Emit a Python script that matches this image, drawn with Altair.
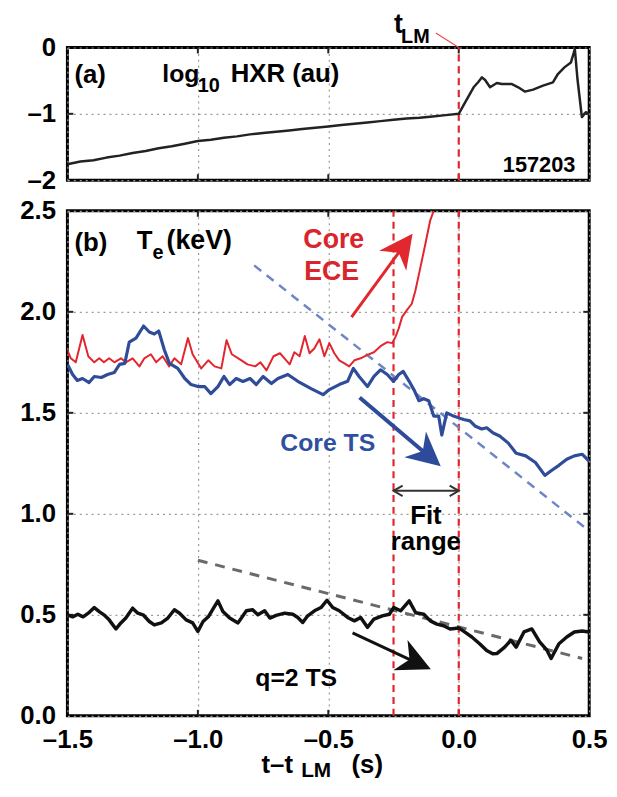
import math
import altair as alt
import pandas as pd

# ---------------- data ----------------
# (a) log10 HXR
hxr_t = [-1.5, -1.45, -1.4, -1.35, -1.3, -1.25, -1.2, -1.15, -1.1, -1.05, -1.0,
         -0.95, -0.9, -0.85, -0.8, -0.75, -0.7, -0.65, -0.6, -0.55, -0.5,
         -0.45, -0.4, -0.35, -0.3, -0.25, -0.2, -0.15, -0.1, -0.05, 0.0,
         0.032, 0.057, 0.075, 0.089, 0.101, 0.12, 0.146, 0.165, 0.202, 0.228,
         0.253, 0.285, 0.323, 0.361, 0.38, 0.405, 0.43, 0.445, 0.455, 0.472, 0.487, 0.5]
hxr_v = [-1.76, -1.72, -1.70, -1.66, -1.63, -1.59, -1.56, -1.52, -1.49, -1.45, -1.41,
         -1.39, -1.36, -1.34, -1.31, -1.29, -1.27, -1.25, -1.23, -1.21, -1.19,
         -1.17, -1.15, -1.13, -1.11, -1.09, -1.07, -1.06, -1.04, -1.02, -1.00,
         -0.775, -0.60, -0.52, -0.45, -0.49, -0.60, -0.535, -0.55, -0.55, -0.60,
         -0.665, -0.635, -0.575, -0.525, -0.40, -0.30, -0.225, -0.025, -0.475, -1.05, -0.975, -1.0]

# (b) core ECE Te (keV)
ece_t = [-1.5, -1.487, -1.468, -1.442, -1.42, -1.397, -1.378, -1.36, -1.34, -1.32, -1.295,
         -1.276, -1.25, -1.224, -1.205, -1.18, -1.16, -1.135, -1.11, -1.09, -1.064, -1.038,
         -1.02, -0.987, -0.96, -0.936, -0.91, -0.89, -0.87, -0.833, -0.81, -0.78, -0.76,
         -0.737, -0.71, -0.685, -0.668, -0.648, -0.63, -0.61, -0.59, -0.572, -0.553, -0.534,
         -0.515, -0.496, -0.477, -0.458, -0.44, -0.42, -0.40, -0.376, -0.35, -0.325, -0.30,
         -0.274, -0.255, -0.242, -0.23, -0.217, -0.198, -0.18, -0.166, -0.147, -0.128,
         -0.11, -0.096]
ece_T = [1.81, 1.77, 1.75, 1.885, 1.78, 1.75, 1.77, 1.75, 1.77, 1.75, 1.77,
         1.75, 1.77, 1.73, 1.77, 1.79, 1.75, 1.78, 1.73, 1.77, 1.74, 1.87,
         1.79, 1.72, 1.76, 1.73, 1.72, 1.86, 1.79, 1.76, 1.74, 1.73, 1.75,
         1.71, 1.78, 1.795, 1.77, 1.74, 1.80, 1.78, 1.88, 1.795, 1.82, 1.864,
         1.78, 1.845, 1.795, 1.76, 1.746, 1.73, 1.76, 1.77, 1.787, 1.80, 1.83,
         1.85, 1.845, 1.877, 1.918, 1.975, 2.01, 2.04, 2.106, 2.22, 2.336,
         2.45, 2.5]

# (b) core TS Te (keV)
ts_t = [-1.5, -1.48, -1.462, -1.442, -1.417, -1.397, -1.37, -1.346, -1.32, -1.30, -1.28,
        -1.263, -1.237, -1.208, -1.186, -1.167, -1.15, -1.128, -1.109, -1.077, -1.05,
        -1.026, -1.0, -0.974, -0.95, -0.923, -0.90, -0.878, -0.853, -0.827, -0.80,
        -0.776, -0.75, -0.718, -0.693, -0.655, -0.617, -0.566, -0.52, -0.496, -0.458,
        -0.426, -0.404, -0.382, -0.35, -0.325, -0.30, -0.274, -0.25, -0.23, -0.213,
        -0.19, -0.17, -0.153, -0.134, -0.115, -0.096, -0.077, -0.065, -0.046, -0.02,
        0.0, 0.019, 0.043, 0.062, 0.088, 0.107, 0.132, 0.157, 0.19, 0.22, 0.257,
        0.294, 0.33, 0.354, 0.384, 0.414, 0.443, 0.473, 0.5]
ts_T = [1.74, 1.69, 1.66, 1.67, 1.65, 1.68, 1.675, 1.69, 1.70, 1.74, 1.745,
        1.85, 1.87, 1.93, 1.90, 1.89, 1.905, 1.81, 1.745, 1.72, 1.67,
        1.64, 1.63, 1.63, 1.595, 1.63, 1.68, 1.64, 1.67, 1.655, 1.67,
        1.64, 1.68, 1.645, 1.67, 1.69, 1.656, 1.62, 1.59, 1.615, 1.64,
        1.656, 1.72, 1.68, 1.63, 1.68, 1.713, 1.69, 1.656, 1.69, 1.705,
        1.656, 1.61, 1.56, 1.57, 1.56, 1.484, 1.484, 1.39, 1.50, 1.484,
        1.475, 1.467, 1.46, 1.435, 1.42, 1.426, 1.40, 1.385, 1.35, 1.30, 1.287,
        1.254, 1.19, 1.213, 1.24, 1.27, 1.287, 1.295, 1.26]

# (b) q=2 TS Te (keV)
q2_t = [-1.5, -1.48, -1.46, -1.44, -1.42, -1.397, -1.378, -1.36, -1.34, -1.314, -1.295,
        -1.276, -1.25, -1.23, -1.21, -1.186, -1.167, -1.14, -1.115, -1.09, -1.07,
        -1.045, -1.02, -1.0, -0.98, -0.96, -0.94, -0.923, -0.904, -0.878, -0.846,
        -0.814, -0.79, -0.77, -0.744, -0.724, -0.70, -0.667, -0.636, -0.617, -0.598,
        -0.579, -0.553, -0.528, -0.505, -0.483, -0.458, -0.426, -0.40, -0.376, -0.35,
        -0.325, -0.293, -0.266, -0.249, -0.223, -0.19, -0.165, -0.134, -0.109, -0.084,
        -0.058, -0.033, 0.0, 0.025, 0.05, 0.08, 0.107, 0.13, 0.146, 0.176, 0.2, 0.22,
        0.25, 0.28, 0.31, 0.338, 0.354, 0.384, 0.414, 0.443, 0.473, 0.5]
q2_T = [0.50, 0.49, 0.503, 0.49, 0.508, 0.536, 0.516, 0.50, 0.475, 0.43, 0.46,
        0.484, 0.533, 0.508, 0.50, 0.467, 0.45, 0.46, 0.484, 0.525, 0.508,
        0.475, 0.46, 0.418, 0.467, 0.49, 0.533, 0.569, 0.516, 0.484, 0.46,
        0.52, 0.525, 0.50, 0.52, 0.484, 0.497, 0.508, 0.503, 0.487, 0.462,
        0.495, 0.52, 0.536, 0.572, 0.536, 0.52, 0.487, 0.47, 0.487, 0.438,
        0.479, 0.495, 0.503, 0.536, 0.52, 0.569, 0.51, 0.503, 0.47, 0.454,
        0.446, 0.43, 0.435, 0.413, 0.39, 0.357, 0.323, 0.307, 0.308, 0.34, 0.374, 0.34,
        0.415, 0.43, 0.366, 0.325, 0.284, 0.357, 0.39, 0.415, 0.42, 0.415]

# linear fits (dashed)
fit_ts_t = [-0.784, 0.5]
fit_ts_T = [2.23, 0.915]
fit_q2_t = [-1.0, 0.473]
fit_q2_T = [0.77, 0.284]

# fit window and t_LM marker
fit_window = [-0.25, 0.0]
t_lm = [0.0]

# tick values
x_ticks = [-1.5, -1.0, -0.5, 0.0, 0.5]
ya_ticks = [-2, -1, 0]
yb_ticks = [0.0, 0.5, 1.0, 1.5, 2.0, 2.5]

# arrows in panel (b): tail t, tail T, tip t, tip T
arrow_ece = [-0.411, 1.974, -0.177, 2.387]
arrow_ts = [-0.38, 1.576, -0.069, 1.236]
arrow_q2 = [-0.407, 0.411, -0.107, 0.23]
fit_arrow_T = 1.114

# ---------------- layout / style ----------------
FONT = "Liberation Sans"
W, HA, HB = 527, 134, 510
XDOM, YADOM, YBDOM = [-1.5, 0.5], [-2, 0], [0, 2.5]
PXX = W / (XDOM[1] - XDOM[0])          # px per unit of t
PXYA = HA / (YADOM[1] - YADOM[0])      # px per unit in (a)
PXYB = HB / (YBDOM[1] - YBDOM[0])      # px per keV in (b)
TICK = 6.0                             # inward tick length, px
RED = "#e3262d"
BLUE = "#2f4c99"

xscale = alt.Scale(domain=XDOM, nice=False, zero=False)
ya_scale = alt.Scale(domain=YADOM, nice=False, zero=False)
yb_scale = alt.Scale(domain=YBDOM, nice=False, zero=False)

neg_d = "datum.value < 0 ? '\u2013' + format(-datum.value, 'd') : format(datum.value, 'd')"
neg_f = "datum.value < 0 ? '\u2013' + format(-datum.value, '.1f') : format(datum.value, '.1f')"

ax_xa = alt.Axis(values=x_ticks, labels=False, ticks=False, domain=False, grid=True, title=None)
ax_xb = alt.Axis(values=x_ticks, labelExpr=neg_f, labelFlush=False, ticks=False, domain=False,
                 grid=True, title=None, labelPadding=11, labelOverlap=False)
ax_ya = alt.Axis(values=ya_ticks, labelExpr=neg_d, ticks=False, domain=False, grid=True,
                 title=None, labelPadding=12, labelOverlap=False)
ax_yb = alt.Axis(values=yb_ticks, labelExpr=neg_f, ticks=False, domain=False, grid=True,
                 title=None, labelPadding=12, labelOverlap=False)


def enc(panel, two=False):
    ax_x = ax_xa if panel == "a" else ax_xb
    ax_y = ax_ya if panel == "a" else ax_yb
    ys = ya_scale if panel == "a" else yb_scale
    d = dict(x=alt.X("t:Q", scale=xscale, axis=ax_x), y=alt.Y("v:Q", scale=ys, axis=ax_y))
    if two:
        d["x2"] = alt.X2("t2:Q")
        d["y2"] = alt.Y2("v2:Q")
    return d


def line(panel, ts, vs, color, width, dash=None):
    df = pd.DataFrame({"t": ts, "v": vs, "o": list(range(len(ts)))})
    kw = dict(color=color, strokeWidth=width, strokeJoin="round", clip=True)
    if dash:
        kw["strokeDash"] = dash
    return alt.Chart(df).mark_line(**kw).encode(order="o:Q", **enc(panel))


def seg(panel, t1, v1, t2, v2, color, width, dash=None):
    df = pd.DataFrame({"t": t1, "v": v1, "t2": t2, "v2": v2})
    kw = dict(color=color, strokeWidth=width)
    if dash:
        kw["strokeDash"] = dash
    return alt.Chart(df).mark_rule(**kw).encode(**enc(panel, two=True))


def inward_ticks(panel, yticks, ydom, pxy):
    t1, v1, t2, v2 = [], [], [], []
    dy = TICK / pxy
    dx = TICK / PXX
    for t in x_ticks[1:-1]:
        t1 += [t, t]
        t2 += [t, t]
        v1 += [ydom[0], ydom[1]]
        v2 += [ydom[0] + dy, ydom[1] - dy]
    for v in yticks[1:-1]:
        t1 += [XDOM[0], XDOM[1]]
        t2 += [XDOM[0] + dx, XDOM[1] - dx]
        v1 += [v, v]
        v2 += [v, v]
    return seg(panel, t1, v1, t2, v2, "#222222", 2)


def label(panel, text, t, v, size, color="black", align="left", weight="bold"):
    df = pd.DataFrame({"t": [t], "v": [v], "label": [text]})
    return alt.Chart(df).mark_text(font=FONT, fontSize=size, fontWeight=weight, color=color,
                                   align=align, baseline="alphabetic").encode(
        text="label:N", **enc(panel))


HEAD = "M0,0 L0.8,1.6 L0,1.12 L-0.8,1.6 Z"


def arrow(a, color, width, size=1800):
    t0, v0, t1, v1 = a
    dx = (t1 - t0) * PXX
    dy = -(v1 - v0) * PXYB
    L = math.hypot(dx, dy)
    ang = math.degrees(math.atan2(dx, -dy)) % 360
    back = 18.0 / L
    te = t1 - (t1 - t0) * back
    ve = v1 - (v1 - v0) * back
    shaft = seg("b", [t0], [v0], [te], [ve], color, width)
    head = alt.Chart(pd.DataFrame({"t": [t1], "v": [v1]})).mark_point(
        shape=HEAD, filled=True, fill=color, color=color, opacity=1, size=size, angle=ang,
        strokeWidth=0).encode(**enc("b"))
    return [shaft, head]


def chevron(t, v, pointing_left, color):
    shape = "M1.3,-0.75 L0,0 L1.3,0.75" if pointing_left else "M-1.3,-0.75 L0,0 L-1.3,0.75"
    return alt.Chart(pd.DataFrame({"t": [t], "v": [v]})).mark_point(
        shape=shape, filled=False, color=color, opacity=1, size=200, strokeWidth=2).encode(**enc("b"))


# ---------------- panel (a) ----------------
layers_a = [
    inward_ticks("a", ya_ticks, YADOM, PXYA),
    seg("a", t_lm, [YADOM[0]], t_lm, [YADOM[1]], RED, 2.2, [7, 5]),
    line("a", hxr_t, hxr_v, "#222222", 2.5),
    seg("a", [-0.088], [0.22], t_lm, [0.0], "#e8505a", 1.2),
    label("a", "(a)", -1.473, -0.54, 26),
    label("a", "log", -1.136, -0.52, 25),
    label("a", "10", -1.0, -0.67, 20),
    label("a", "HXR (au)", -0.874, -0.52, 26),
    label("a", "157203", 0.308, -1.87, 22, align="center"),
    label("a", "t", -0.248, 0.22, 27),
    label("a", "LM", -0.221, 0.06, 20),
]
panel_a = alt.layer(*layers_a).properties(width=W, height=HA)

# ---------------- panel (b) ----------------
layers_b = [
    inward_ticks("b", yb_ticks, YBDOM, PXYB),
    seg("b", fit_window, [YBDOM[0]] * 2, fit_window, [YBDOM[1]] * 2, RED, 2.2, [7, 5]),
    line("b", fit_ts_t, fit_ts_T, "#6d86c4", 2.5, [9, 7]),
    line("b", fit_q2_t, fit_q2_T, "#6a6a6a", 3, [10, 8]),
    line("b", ece_t, ece_T, RED, 2),
    line("b", ts_t, ts_T, BLUE, 3.2),
    line("b", q2_t, q2_T, "#111111", 3.5),
    seg("b", [fit_window[0]], [fit_arrow_T], [fit_window[1]], [fit_arrow_T], "#333333", 2),
    chevron(fit_window[0], fit_arrow_T, True, "#333333"),
    chevron(fit_window[1], fit_arrow_T, False, "#333333"),
]
layers_b += arrow(arrow_ece, "#e0282e", 3)
layers_b += arrow(arrow_ts, "#2d4b9a", 4)
layers_b += arrow(arrow_q2, "#111111", 3)
layers_b += [
    label("b", "(b)", -1.473, 2.30, 26),
    label("b", "T", -1.234, 2.313, 26),
    label("b", "e", -1.174, 2.26, 20),
    label("b", "(keV)", -1.12, 2.313, 27),
    label("b", "Core", -0.479, 2.318, 27, color="#d9252c", align="center"),
    label("b", "ECE", -0.487, 2.156, 27, color="#d9252c", align="center"),
    label("b", "Core TS", -0.502, 1.31, 25, color="#2f4f9f", align="center"),
    label("b", "Fit", -0.126, 0.951, 26, align="center"),
    label("b", "range", -0.126, 0.823, 26, align="center"),
    label("b", "q=2 TS", -0.623, 0.15, 25, align="center"),
    label("b", "t\u2013t", -0.756, -0.285, 26),
    label("b", "LM", -0.604, -0.302, 21),
    label("b", "(s)", -0.411, -0.285, 26),
]
panel_b = alt.layer(*layers_b).properties(width=W, height=HB)

chart = alt.vconcat(panel_a, panel_b, spacing=31, bounds="flush").properties(
    padding={"left": 10, "top": -3, "right": 0, "bottom": -4},
    background="white",
).configure_view(
    stroke="black", strokeWidth=3
).configure_axis(
    labelFont=FONT, labelFontSize=26, labelFontWeight="bold", labelColor="black",
    gridColor="#9a9a9a", gridDash=[2, 4], gridWidth=1.2, tickSize=0,
)

chart.save("out.html", embed_options={"renderer": "svg", "actions": False})
